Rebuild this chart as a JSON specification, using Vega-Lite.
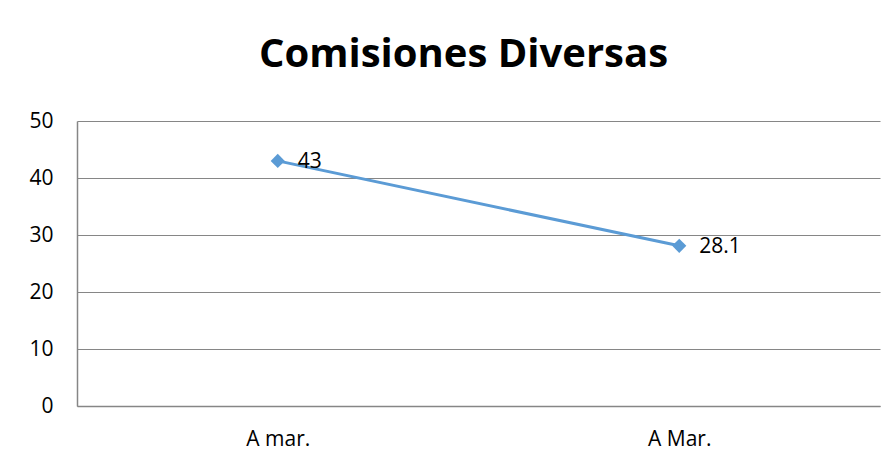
{
  "$schema": "https://vega.github.io/schema/vega-lite/v6.json",
  "autosize": "none",
  "width": 803,
  "height": 285,
  "padding": {"left": 77, "top": 121, "right": 15, "bottom": 62},
  "background": "white",
  "title": {
    "text": "Comisiones Diversas",
    "font": "Open Sans",
    "fontSize": 40,
    "fontWeight": "bold",
    "color": "#000000",
    "anchor": "middle",
    "dx": -15,
    "offset": 35
  },
  "data": {
    "values": [
      {"periodo": "A mar.", "valor": 43, "etiqueta": "43"},
      {"periodo": "A Mar.", "valor": 28.1, "etiqueta": "28.1"}
    ]
  },
  "config": {
    "view": {"stroke": null},
    "axis": {
      "labelFont": "Open Sans",
      "labelFontSize": 21,
      "labelColor": "#000000",
      "domainColor": "#868686",
      "gridColor": "#868686",
      "ticks": false,
      "title": null
    }
  },
  "encoding": {
    "x": {
      "field": "periodo",
      "type": "nominal",
      "sort": null,
      "scale": {"paddingInner": 0, "paddingOuter": 0},
      "axis": {"labelAngle": 0, "labelPadding": 22, "grid": false, "domainWidth": 1.5}
    },
    "y": {
      "field": "valor",
      "type": "quantitative",
      "scale": {"domain": [0, 50]},
      "axis": {"values": [0, 10, 20, 30, 40, 50], "labelPadding": 24, "grid": true, "gridWidth": 1.2, "domainWidth": 1.5}
    }
  },
  "layer": [
    {
      "mark": {"type": "line", "color": "#5B9BD5", "strokeWidth": 3},
      "encoding": {}
    },
    {
      "mark": {"type": "point", "shape": "diamond", "filled": true, "color": "#5B9BD5", "size": 200, "opacity": 1},
      "encoding": {}
    },
    {
      "mark": {"type": "text", "align": "left", "baseline": "middle", "dx": 20, "dy": 1, "font": "Open Sans", "fontSize": 21, "color": "#000000"},
      "encoding": {"text": {"field": "etiqueta"}}
    }
  ]
}
